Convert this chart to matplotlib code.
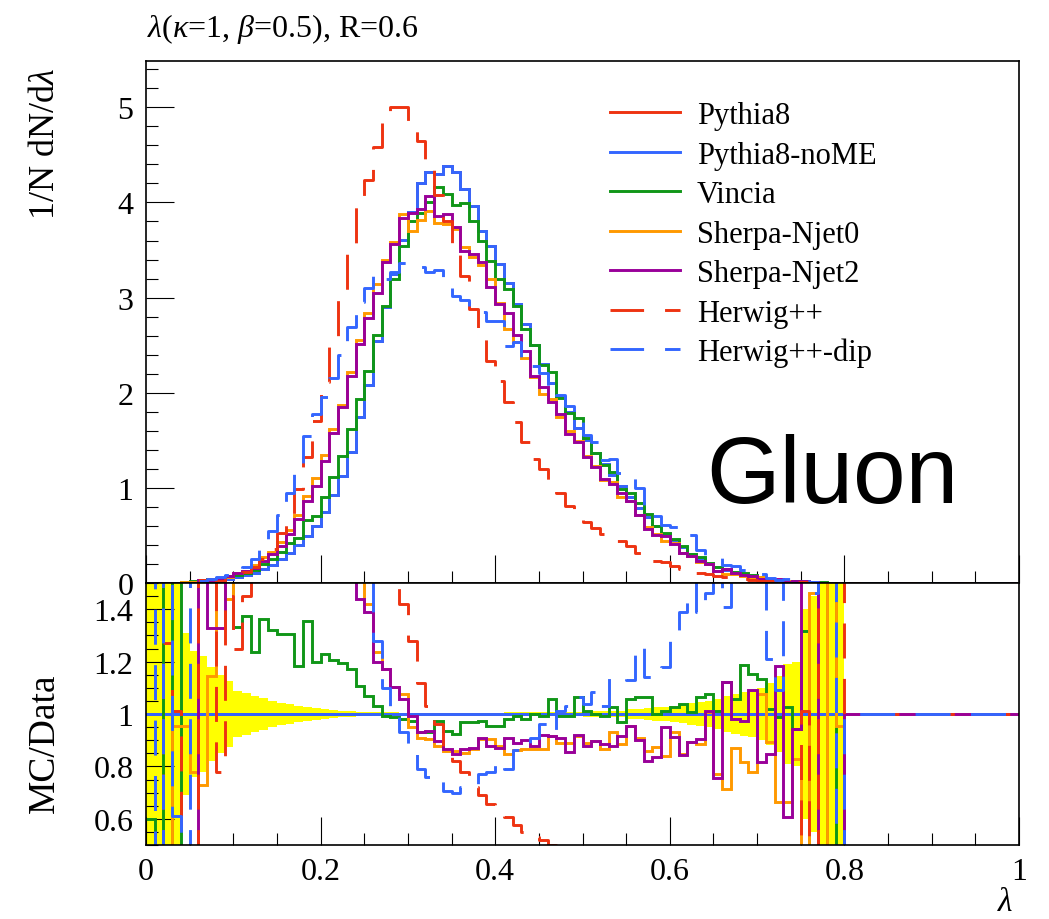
import numpy as np
import matplotlib
matplotlib.use("Agg")
import matplotlib.pyplot as plt
from matplotlib.ticker import MultipleLocator, FixedLocator

plt.rcParams['font.family'] = 'Liberation Serif'
plt.rcParams['mathtext.fontset'] = 'custom'
plt.rcParams['mathtext.rm'] = 'Liberation Serif'
plt.rcParams['mathtext.it'] = 'Liberation Serif:italic'

# ---------------- data (bins of width 0.01 on lambda in [0,1]) ----------------
bin_edges = np.linspace(0.0, 1.0, 101)

pythia8 = [0, 0, 0.001, 0.003, 0.006, 0.010, 0.016, 0.024, 0.033, 0.045,
           0.060, 0.080, 0.110, 0.145, 0.190, 0.250, 0.320, 0.400, 0.490, 0.600,
           0.750, 0.920, 1.120, 1.380, 1.740, 2.080, 2.540, 2.900, 3.250, 3.610,
           3.900, 4.200, 4.320, 4.300, 4.380, 4.320, 4.140, 3.960, 3.700, 3.540,
           3.350, 3.150, 2.930, 2.720, 2.500, 2.300, 2.100, 1.950, 1.800, 1.630,
           1.500, 1.370, 1.250, 1.140, 1.020, 0.900, 0.790, 0.690, 0.600, 0.520,
           0.450, 0.380, 0.310, 0.250, 0.200, 0.165, 0.135, 0.110, 0.088, 0.070,
           0.055, 0.042, 0.032, 0.024, 0.017, 0.011, 0.007, 0.004, 0.002, 0.001]
pythia8_nome = list(pythia8)

vincia = [0, 0, 0.002, 0.005, 0.010, 0.016, 0.026, 0.038, 0.053, 0.072,
          0.080, 0.110, 0.136, 0.198, 0.251, 0.326, 0.418, 0.473, 0.660, 0.700,
          0.900, 1.110, 1.340, 1.620, 1.930, 2.230, 2.610, 2.910, 3.200, 3.540,
          3.800, 3.890, 4.000, 4.160, 4.090, 3.970, 3.990, 3.800, 3.590, 3.380,
          3.200, 3.090, 2.910, 2.670, 2.500, 2.290, 2.220, 1.940, 1.790, 1.730,
          1.520, 1.370, 1.240, 1.170, 0.990, 0.950, 0.840, 0.730, 0.600, 0.530,
          0.460, 0.390, 0.310, 0.270, 0.215, 0.167, 0.151, 0.116, 0.104, 0.081,
          0.062, 0.043, 0.032, 0.025, 0.016, 0.0145, 0.0, 0.008, 0.0, 0.002]

sherpa_njet0 = [0, 0, 0.001, 0.003, 0.006, 0.008, 0.012, 0.028, 0.056, 0.065,
                0.100, 0.130, 0.190, 0.270, 0.330, 0.430, 0.560, 0.720, 0.910, 1.100,
                1.350, 1.620, 1.870, 2.220, 2.550, 2.840, 3.140, 3.400, 3.580, 3.880,
                3.700, 3.820, 3.910, 3.780, 3.770, 3.720, 3.530, 3.430, 3.340, 3.200,
                2.940, 2.670, 2.530, 2.360, 2.170, 1.990, 1.930, 1.740, 1.600, 1.490,
                1.340, 1.230, 1.080, 1.060, 0.900, 0.860, 0.720, 0.590, 0.520, 0.440,
                0.420, 0.320, 0.280, 0.220, 0.200, 0.127, 0.096, 0.096, 0.072, 0.054,
                0.059, 0.037, 0.021, 0.016, 0.014, 0.008, 0.011, 0.0, 0.0, 0.001]

sherpa_njet2 = [0, 0, 0.0, 0.0, 0.0, 0.003, 0.035, 0.032, 0.044, 0.075,
                0.100, 0.130, 0.160, 0.230, 0.300, 0.390, 0.510, 0.670, 0.860, 1.020,
                1.280, 1.580, 1.850, 2.180, 2.510, 2.790, 3.050, 3.370, 3.560, 3.840,
                3.890, 3.930, 4.070, 3.860, 3.880, 3.740, 3.490, 3.460, 3.370, 3.110,
                2.930, 2.840, 2.610, 2.440, 2.180, 2.060, 1.900, 1.780, 1.570, 1.480,
                1.320, 1.220, 1.090, 1.040, 0.950, 0.860, 0.710, 0.570, 0.500, 0.490,
                0.410, 0.320, 0.280, 0.230, 0.200, 0.125, 0.152, 0.108, 0.086, 0.077,
                0.045, 0.036, 0.038, 0.015, 0.016, 0.018, 0.011, 0.0, 0.0, 0.001]

herwig = [0, 0, 0.001, 0.003, 0.002, 0.003, 0.030, 0.040, 0.026, 0.065,
          0.080, 0.120, 0.170, 0.250, 0.360, 0.530, 0.720, 0.990, 1.320, 1.700,
          2.110, 2.580, 3.000, 3.560, 4.030, 4.240, 4.580, 4.890, 5.000, 5.000,
          4.860, 4.650, 4.430, 4.080, 3.800, 3.450, 3.230, 2.880, 2.560, 2.330,
          2.120, 1.900, 1.690, 1.480, 1.300, 1.200, 1.060, 0.950, 0.810, 0.690,
          0.640, 0.580, 0.510, 0.480, 0.440, 0.390, 0.320, 0.290, 0.230, 0.220,
          0.180, 0.150, 0.130, 0.110, 0.090, 0.070, 0.065, 0.050, 0.040, 0.030,
          0.025, 0.020, 0.015, 0.010, 0.007, 0.011, 0.002, 0.001, 0.0, 0.0]

herwig_dip = [0, 0, 0.003, 0.002, 0.0, 0.015, 0.025, 0.040, 0.060, 0.085,
              0.120, 0.170, 0.250, 0.400, 0.550, 0.720, 0.950, 1.250, 1.550, 1.780,
              1.950, 2.150, 2.400, 2.690, 2.950, 3.100, 3.250, 3.200, 3.270, 3.360,
              3.330, 3.320, 3.270, 3.290, 3.100, 3.020, 2.980, 2.850, 2.850, 2.750,
              2.750, 2.490, 2.530, 2.340, 2.280, 2.210, 1.950, 1.980, 1.860, 1.730,
              1.560, 1.480, 1.290, 1.300, 1.160, 1.130, 1.000, 0.790, 0.700, 0.610,
              0.590, 0.530, 0.500, 0.350, 0.290, 0.260, 0.190, 0.180, 0.140, 0.110,
              0.090, 0.051, 0.035, 0.038, 0.027, 0.018, 0.010, 0.003, 0.001, 0.0]

# ratio MC / reference (Pythia8) (off-scale values beyond 0.5..1.5)
ratio_vincia = [0.6, 0.0, 2.0, 0.0, 2.0, 2.0, 2.0, 2.0, 2.0, 2.0,
                1.331, 1.375, 1.238, 1.363, 1.322, 1.305, 1.305, 1.182, 1.356, 1.197,
                1.229, 1.207, 1.194, 1.172, 1.108, 1.070, 1.029, 0.994, 0.987, 0.981,
                0.975, 0.930, 0.930, 0.975, 0.936, 0.924, 0.968, 0.968, 0.975, 0.955,
                0.955, 0.981, 0.994, 0.981, 1.000, 0.994, 1.057, 0.994, 0.994, 1.064,
                1.013, 1.000, 0.994, 1.025, 0.968, 1.057, 1.064, 1.064, 1.000, 1.013,
                1.025, 1.038, 1.006, 1.064, 1.076, 1.013, 1.121, 1.057, 1.187, 1.153,
                1.134, 1.019, 0.987, 1.025, 0.943, 1.318, 0.0, 0.0, 2.0, 0.0]

ratio_njet0 = [0.0, 0.0, 0.0, 0.955, 0.955, 0.780, 0.730, 1.146, 2.0, 1.440,
               2.0, 2.0, 2.0, 2.0, 2.0, 2.0, 2.0, 2.0, 2.0, 2.0,
               2.0, 2.0, 2.0, 2.0, 2.0, 1.420, 1.235, 1.172, 1.102, 1.076,
               0.949, 0.910, 0.904, 0.879, 0.860, 0.860, 0.853, 0.866, 0.904, 0.904,
               0.879, 0.847, 0.863, 0.866, 0.866, 0.866, 0.917, 0.891, 0.891, 0.917,
               0.891, 0.898, 0.866, 0.930, 0.885, 0.955, 0.910, 0.860, 0.873, 0.841,
               0.930, 0.847, 0.892, 0.885, 1.006, 0.771, 0.714, 0.869, 0.818, 0.777,
               1.076, 0.892, 0.663, 0.663, 0.828, 0.0, 1.460, 0.0, 2.0, 0.955]

ratio_njet2 = [0.0, 0.0, 0.0, 0.0, 0.0, 0.0, 2.0, 1.330, 1.330, 2.0,
               2.0, 2.0, 2.0, 2.0, 2.0, 2.0, 2.0, 2.0, 2.0, 2.0,
               2.0, 2.0, 2.0, 2.0, 1.440, 1.390, 1.200, 1.172, 1.102, 1.057,
               0.994, 0.930, 0.935, 0.898, 0.866, 0.847, 0.866, 0.872, 0.907, 0.879,
               0.872, 0.907, 0.890, 0.900, 0.879, 0.920, 0.915, 0.910, 0.856, 0.920,
               0.879, 0.898, 0.885, 0.879, 0.917, 0.955, 0.902, 0.822, 0.834, 0.949,
               0.911, 0.845, 0.892, 0.904, 1.013, 0.755, 1.124, 0.981, 0.975, 1.093,
               0.815, 0.847, 1.182, 0.605, 0.943, 2.0, 2.0, 0.0, 0.0, 0.0]

ratio_herwig = [0.0, 0.0, 1.270, 1.010, 0.0, 0.0, 2.0, 2.0, 0.780, 1.450,
                1.250, 1.450, 1.600, 2.0, 2.0, 2.0, 2.0, 2.0, 2.0, 2.0,
                2.0, 2.0, 2.0, 2.0, 2.0, 2.0, 2.0, 2.0, 2.0, 1.420,
                1.280, 1.120, 1.030, 0.960, 0.860, 0.820, 0.777, 0.720, 0.690, 0.655,
                0.625, 0.605, 0.575, 0.550, 0.530, 0.520, 0.500, 0.490, 0.450, 0.420,
                0.40, 0.40, 0.40, 0.40, 0.40, 0.40, 0.40, 0.40, 0.40, 0.40,
                0.40, 0.40, 0.40, 0.40, 0.40, 0.40, 0.40, 0.40, 0.40, 0.40,
                0.40, 0.40, 0.40, 0.40, 0.40, 1.010, 0.0, 2.0, 2.0, 2.0]

ratio_herwig_dip = [2.0, 0.0, 2.0, 0.610, 0.0, 2.0, 2.0, 2.0, 2.0, 2.0,
                    2.0, 2.0, 2.0, 2.0, 2.0, 2.0, 2.0, 2.0, 2.0, 2.0,
                    2.0, 2.0, 2.0, 2.0, 2.0, 2.0, 1.280, 1.100, 1.006, 0.930,
                    0.853, 0.790, 0.758, 0.764, 0.707, 0.700, 0.720, 0.720, 0.771, 0.777,
                    0.822, 0.790, 0.864, 0.860, 0.910, 0.962, 0.930, 1.013, 1.032, 1.064,
                    1.038, 1.083, 1.032, 1.136, 1.140, 1.130, 1.260, 1.140, 1.170, 1.180,
                    1.300, 1.390, 1.600, 1.390, 1.460, 1.600, 1.410, 1.600, 1.600, 1.600,
                    1.600, 1.210, 1.090, 1.600, 1.600, 1.600, 1.460, 2.0, 2.0, 0.0]

# relative statistical uncertainty of the reference (yellow band half-width)
ref_uncertainty = [0.6, 0.6, 0.6, 0.6, 0.31, 0.24, 0.22, 0.18, 0.15, 0.127,
                   0.089, 0.080, 0.067, 0.060, 0.051, 0.042, 0.037, 0.032, 0.028, 0.023,
                   0.019, 0.017, 0.013, 0.010, 0.009, 0.009, 0.007, 0.006, 0.006, 0.005,
                   0.005, 0.005, 0.005, 0.005, 0.005, 0.005, 0.005, 0.005, 0.005, 0.005,
                   0.005, 0.006, 0.006, 0.006, 0.006, 0.007, 0.007, 0.007, 0.008, 0.009,
                   0.010, 0.011, 0.013, 0.013, 0.013, 0.019, 0.019, 0.022, 0.025, 0.028,
                   0.032, 0.034, 0.042, 0.047, 0.051, 0.057, 0.070, 0.076, 0.083, 0.089,
                   0.100, 0.120, 0.146, 0.190, 0.200, 0.400, 0.450, 0.600, 0.600, 0.600]

labels = ["Pythia8", "Pythia8-noME", "Vincia", "Sherpa-Njet0", "Sherpa-Njet2",
          "Herwig++", "Herwig++-dip"]
x_ticklabels = ["0", "0.2", "0.4", "0.6", "0.8", "1"]
ratio_ticklabels = ["0.6", "0.8", "1", "1.2", "1.4"]

# ---------------- styling ----------------
RED, BLUE, GREEN, ORANGE, PURPLE = "#EE3311", "#3366FF", "#109618", "#FF9900", "#990099"
LW = 2.1
DASH = (12.0, 7.0)


def pad0(a):
    a = np.asarray(a, float)
    return np.concatenate([a, np.zeros(100 - len(a))])


def pad1(a):
    a = np.asarray(a, float)
    return np.concatenate([a, np.ones(100 - len(a))])


ones = np.ones(100)
series = [
    (labels[0], RED, False, pad0(pythia8), ones),
    (labels[1], BLUE, False, pad0(pythia8_nome), ones),
    (labels[2], GREEN, False, pad0(vincia), pad1(ratio_vincia)),
    (labels[3], ORANGE, False, pad0(sherpa_njet0), pad1(ratio_njet0)),
    (labels[4], PURPLE, False, pad0(sherpa_njet2), pad1(ratio_njet2)),
    (labels[5], RED, True, pad0(herwig), pad1(ratio_herwig)),
    (labels[6], BLUE, True, pad0(herwig_dip), pad1(ratio_herwig_dip)),
]

W, H = 1049, 920
fig = plt.figure(figsize=(W / 100, H / 100), dpi=100)
ax1 = fig.add_axes([146 / W, 1 - 584 / H, 873 / W, 522 / H])
ax2 = fig.add_axes([146 / W, 1 - 846 / H, 873 / W, 262 / H])


def steps(ax, vals, color, dashed, **kw):
    y = np.append(vals, vals[-1])
    line, = ax.plot(bin_edges, y, drawstyle="steps-post", color=color, lw=LW,
                    solid_joinstyle="miter", **kw)
    if dashed:
        line.set_dashes(DASH)
    return line


for lab, col, dsh, top, rat in series:
    steps(ax1, top, col, dsh)

# yellow band
unc = pad0(ref_uncertainty)
ax2.stairs(1 + unc, bin_edges, baseline=1 - unc, fill=True, color="#FFFF00",
           linewidth=0, zorder=1)
for lab, col, dsh, top, rat in series:
    steps(ax2, rat, col, dsh, zorder=2)

# axes limits and ticks
for ax in (ax1, ax2):
    ax.set_xlim(0, 1)
    ax.xaxis.set_major_locator(FixedLocator([0, 0.2, 0.4, 0.6, 0.8, 1.0]))
    ax.xaxis.set_minor_locator(MultipleLocator(0.05))
    ax.tick_params(which="both", direction="in", top=False, right=False,
                   width=0.8, colors="black", labelsize=23, pad=9)
    ax.tick_params(which="major", length=20)
    ax.tick_params(which="minor", length=8.5)
    for s in ax.spines.values():
        s.set_linewidth(1.2)
        s.set_color("black")

ax1.set_ylim(0, 5.487)
ax1.yaxis.set_major_locator(FixedLocator([0, 1, 2, 3, 4, 5]))
ax1.yaxis.set_minor_locator(MultipleLocator(0.2))
ax1.set_yticklabels(["0", "1", "2", "3", "4", "5"])
ax1.tick_params(labelbottom=False)

ax2.set_ylim(0.5, 1.5)
ax2.yaxis.set_major_locator(FixedLocator([0.6, 0.8, 1.0, 1.2, 1.4]))
ax2.yaxis.set_minor_locator(MultipleLocator(0.05))
ax2.set_yticklabels(ratio_ticklabels)
ax2.set_xticklabels(x_ticklabels)

# legend (drawn by hand to match the layout)
leg_rows = [113, 153, 192, 232, 271, 311, 350]
for (lab, col, dsh, top, rat), yp in zip(series, leg_rows):
    ya = (584 - yp) / 522
    ln, = ax1.plot([(610 - 146) / 873, (680 - 146) / 873], [ya, ya],
                   transform=ax1.transAxes, color=col, lw=LW)
    if dsh:
        ln.set_dashes((16 / 1.39, 10 / 1.39))
    ax1.text((697 - 146) / 873, ya, lab, transform=ax1.transAxes,
             fontsize=22, va="center_baseline", ha="left")

ax1.text((706 - 146) / 873, (584 - 503) / 522, "Gluon", transform=ax1.transAxes,
         fontsize=68, family="Liberation Sans", va="baseline", ha="left")

fig.text(147 / W, 1 - 37 / H, r"$\lambda$($\kappa$=1, $\beta$=0.5), R=0.6",
         fontsize=23, va="baseline", ha="left")
fig.text(45 / W, 1 - 144 / H, r"1/N dN/d$\lambda$", rotation=90,
         fontsize=26, ha="center", va="center")
fig.text(45 / W, 1 - 743 / H, "MC/Data", rotation=90,
         fontsize=27, ha="center", va="center")
fig.text(1005 / W, 1 - 903 / H, r"$\lambda$", fontsize=24, ha="center", va="center")

fig.savefig("out.png", dpi=100)
